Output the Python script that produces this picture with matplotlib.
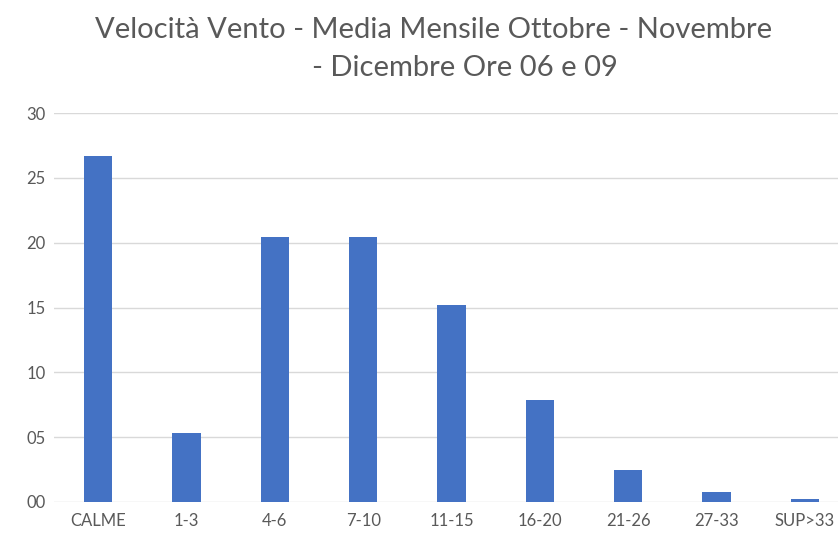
import matplotlib.pyplot as plt
import numpy as np

categorie = ['CALME', '1-3', '4-6', '7-10', '11-15', '16-20', '21-26', '27-33', 'SUP>33']
valori = [26.7, 5.3, 20.4, 20.4, 15.2, 7.9, 2.5, 0.8, 0.2]
y_ticks = [0, 5, 10, 15, 20, 25, 30]
y_labels = ['00', '05', '10', '15', '20', '25', '30']

plt.rcParams['font.family'] = ['Lato', 'DejaVu Sans']

fig = plt.figure(figsize=(8.38, 5.37), dpi=100)
ax = fig.add_axes([54 / 838, 35 / 537, 784 / 838, 389 / 537])

x = np.arange(len(categorie))
ax.bar(x, valori, width=0.32, color='#4472C4', zorder=3)

ax.set_xlim(-0.5, 8.5 - 11 / 88.3)
ax.set_ylim(0, 30)
ax.set_yticks(y_ticks)
ax.set_yticklabels(y_labels)
ax.set_xticks(x)
ax.set_xticklabels(categorie)
ax.grid(axis='y', color='#D9D9D9', linewidth=1, zorder=0)
ax.tick_params(axis='both', length=0, labelsize=12, colors='#595959')
ax.tick_params(axis='y', pad=6)
ax.tick_params(axis='x', pad=8)
for s in ax.spines.values():
    s.set_visible(False)

# titolo su due righe come in Excel
fig.text(0.517, 0.944, 'Velocità Vento - Media Mensile Ottobre - Novembre',
         ha='center', va='center', fontsize=21, color='#595959')
fig.text(0.555, 0.873, '- Dicembre Ore 06 e 09',
         ha='center', va='center', fontsize=21, color='#595959')

fig.savefig('out.png', dpi=100)
